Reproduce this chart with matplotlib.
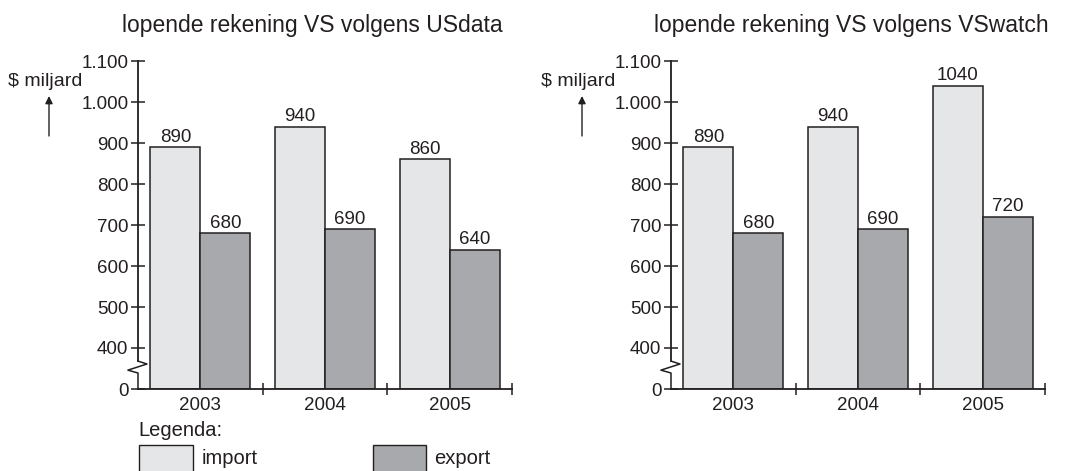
import numpy as np
import matplotlib
matplotlib.use("Agg")
import matplotlib.pyplot as plt
from matplotlib.patches import Rectangle, FancyArrowPatch
from matplotlib.transforms import blended_transform_factory

plt.rcParams['font.family'] = ['Liberation Sans', 'DejaVu Sans']
plt.rcParams['font.size'] = 13

# data
years = ["2003", "2004", "2005"]
import_usdata = [890, 940, 860]
export_usdata = [680, 690, 640]
import_vswatch = [890, 940, 1040]
export_vswatch = [680, 690, 720]
titles = ["lopende rekening VS volgens USdata", "lopende rekening VS volgens VSwatch"]
ytick_vals = [300, 400, 500, 600, 700, 800, 900, 1000, 1100]
ytick_labels = ["0", "400", "500", "600", "700", "800", "900", "1.000", "1.100"]

light = "#e5e6e8"
dark = "#a7a9ac"
ink = "#231f20"
base = 300  # the broken axis puts "0" where 300 would be

fig = plt.figure(figsize=(10.67, 4.71), dpi=100)
W, H = 1067, 471


def draw_panel(left_px, imp, exp, title, title_x):
    ax = fig.add_axes([left_px / W, 1 - 389 / H, 374 / W, 328 / H])
    x = np.arange(len(years))
    b1 = ax.bar(x + 0.1, [v - base for v in imp], width=0.4, bottom=base, align='edge',
                color=light, edgecolor=ink, linewidth=1.1)
    b2 = ax.bar(x + 0.5, [v - base for v in exp], width=0.4, bottom=base, align='edge',
                color=dark, edgecolor=ink, linewidth=1.1)
    ax.bar_label(b1, labels=[str(v) for v in imp], padding=1, fontsize=13.5, color=ink)
    ax.bar_label(b2, labels=[str(v) for v in exp], padding=1, fontsize=13.5, color=ink)

    ax.set_xlim(0, 3)
    ax.set_ylim(300, 1100)
    for s in ["top", "right", "left"]:
        ax.spines[s].set_visible(False)
    ax.spines["bottom"].set_color(ink)
    ax.spines["bottom"].set_linewidth(1.3)

    ax.set_yticks(ytick_vals)
    ax.set_yticklabels(ytick_labels, fontsize=13.5)
    ax.tick_params(axis='y', direction='inout', length=10, width=1.1, pad=2, colors=ink)
    ax.set_xticks([1, 2, 3])
    ax.set_xticklabels([])
    ax.set_xticks([0.5, 1.5, 2.5], minor=True)
    ax.set_xticklabels(years, minor=True, fontsize=13.5)
    ax.tick_params(axis='x', which='major', direction='inout', length=9, width=1.1, colors=ink)
    ax.tick_params(axis='x', which='minor', length=0, pad=6, colors=ink)

    # y axis line with break symbol
    tr = blended_transform_factory(ax.transAxes, ax.transData)
    ax.plot([0, 0], [1100, 368], color=ink, lw=1.3, transform=tr, clip_on=False)
    ax.plot([0, 0.024, -0.027, 0, 0], [368, 361, 346, 339, 300], color=ink, lw=1.1,
            transform=tr, clip_on=False)

    fig.text(title_x / W, 1 - 32 / H, title, fontsize=16.5, color=ink,
             ha='center', va='baseline')

    # unit label and arrow
    fig.text((left_px - 93) / W, 1 - 82 / H, "$ miljard", fontsize=14, color=ink,
             ha='center', va='center')
    fig.add_artist(FancyArrowPatch(
        ((left_px - 89) / W, 1 - 136 / H), ((left_px - 89) / W, 1 - 96 / H),
        transform=fig.transFigure, arrowstyle='-|>', mutation_scale=11,
        color=ink, lw=1.0, shrinkA=0, shrinkB=0))
    return ax


draw_panel(138, import_usdata, export_usdata, titles[0], 312)
draw_panel(671, import_vswatch, export_vswatch, titles[1], 851)

# legend
fig.text(138 / W, 1 - 430 / H, "Legenda:", fontsize=14.5, color=ink, va='center')
fig.add_artist(Rectangle((139 / W, 1 - 480 / H), 54 / W, 35 / H, transform=fig.transFigure,
                         facecolor=light, edgecolor=ink, lw=1.0))
fig.text(202 / W, 1 - 458 / H, "import", fontsize=14.5, color=ink, va='center')
fig.add_artist(Rectangle((373 / W, 1 - 480 / H), 53 / W, 35 / H, transform=fig.transFigure,
                         facecolor=dark, edgecolor=ink, lw=1.0))
fig.text(434 / W, 1 - 458 / H, "export", fontsize=14.5, color=ink, va='center')

fig.savefig("out.png", dpi=100)
